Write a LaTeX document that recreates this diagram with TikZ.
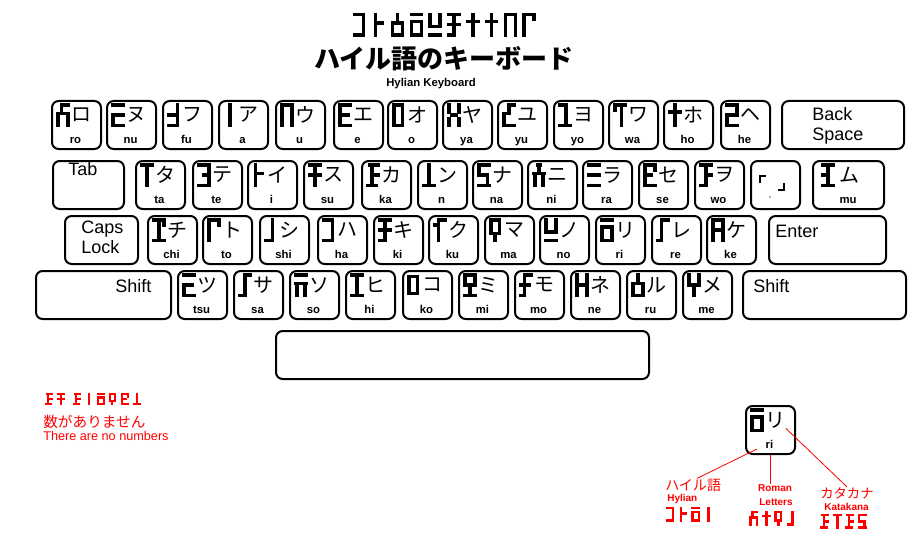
\documentclass[tikz,border=0pt]{standalone}
\usepackage{fontspec}
\setmainfont{Liberation Sans}
\newfontfamily\jp{Noto Sans CJK JP}
\newcommand{\px}{*0.75pt}
\newcommand{\defglyph}[2]{\expandafter\def\csname hy-#1\endcsname{#2}}
\newcommand{\hy}[1]{\csname hy-#1\endcsname}
% Hylian letters on a 3x6 grid, y pointing down
\defglyph{ro}{(1,0)--(3,0) (1,0)--(1,2.5) (0,2.5)--(3,2.5) (0,2.5)--(0,6) (3,2.5)--(3,6)}
\defglyph{nu}{(0,0)--(3,0) (0,3)--(3,3) (0,3)--(0,6)--(3,6)}
\defglyph{fu}{(2.5,0)--(2.5,6) (0,3)--(2.5,3) (0,6)--(2.5,6)}
\defglyph{a}{(1.5,0)--(1.5,6)}
\defglyph{u}{(0,6)--(0,0)--(3,0)--(3,6)}
\defglyph{e}{(3,0)--(0,0)--(0,6)--(3,6) (0,3)--(2.5,3)}
\defglyph{o}{(0,0) rectangle (2.5,6)}
\defglyph{ya}{(0,0)--(0,2) (3,0)--(3,2) (0.8,3)--(2.2,3) (0,4)--(0,6) (3,4)--(3,6)}
\defglyph{yu}{(3,0)--(1.5,0)--(1.5,2.5)--(0,2.5)--(0,6)--(3,6)}
\defglyph{yo}{(0,0)--(1.8,0)--(1.8,6) (0,6)--(3,6)}
\defglyph{wa}{(0,1.5)--(0,0)--(3,0) (2,0)--(2,6)}
\defglyph{ho}{(1.5,0)--(1.5,6) (0,2)--(3,2)}
\defglyph{he}{(0,0)--(3,0)--(3,3)--(0,3)--(0,6)--(3,6)}
\defglyph{ta}{(0,0)--(3,0) (1.5,0)--(1.5,6)}
\defglyph{te}{(0,0)--(3,0)--(3,6)--(0,6) (1.5,3)--(3,3)}
\defglyph{i}{(0.5,0)--(0.5,6) (0.5,2.5)--(2.5,2.5)}
\defglyph{su}{(0,0)--(3,0) (1.5,0)--(1.5,6) (0,3)--(3,3)}
\defglyph{ka}{(0.5,0)--(3,0) (1.2,0)--(1.2,6) (1.2,3)--(3,3) (0,6)--(2.5,6)}
\defglyph{n}{(1.5,0)--(1.5,6) (0,6)--(3,6)}
\defglyph{na}{(3,0)--(0,0)--(0,3)--(2.5,3)--(2.5,6) (0,6)--(3,6)}
\defglyph{ni}{(1,0)--(2,0) (1.5,0)--(1.5,2.5) (0,2.5)--(3,2.5) (0.3,2.5)--(0.3,6) (2.7,2.5)--(2.7,6)}
\defglyph{ra}{(0,0)--(3,0) (0,3)--(3,3) (0,6)--(3,6)}
\defglyph{se}{(0,0)--(3,0) (0,0)--(0,6)--(3,6) (0,3)--(2,3) (3,0)--(3,1.5)}
\defglyph{wo}{(0,0)--(3,0) (1.5,0)--(1.5,6) (1.5,3)--(3,3) (0,6)--(1.5,6)}
\defglyph{mu}{(0,0)--(3,0) (1.5,0)--(1.5,6) (0,6)--(3,6) (0,3)--(1.5,3)}
\defglyph{chi}{(0,0)--(3,0)--(3,1.5) (1.5,0)--(1.5,6) (0,6)--(3,6)}
\defglyph{to}{(3,1.5)--(3,0)--(0,0)--(0,6)}
\defglyph{shi}{(2,0)--(2,6)--(0,6)}
\defglyph{ha}{(0,0)--(2.5,0)--(2.5,6)--(0,6)}
\defglyph{ki}{(0,0)--(3,0) (1.5,0)--(1.5,6) (0,3)--(3,3) (0,6)--(1.5,6)}
\defglyph{ku}{(3,0)--(1,0)--(1,6) (0,1.5)--(1,1.5)}
\defglyph{ma}{(0,0) rectangle (2.5,4) (1.25,4)--(1.25,6)}
\defglyph{no}{(0,0)--(0,3.5)--(3,3.5)--(3,0) (0,6)--(3,6)}
\defglyph{ri}{(0,0)--(3,0) (0,2) rectangle (3,6)}
\defglyph{re}{(3,0)--(1,0)--(1,6)--(0,6)}
\defglyph{ke}{(0,6)--(0,0)--(3,0)--(3,6) (0,3)--(3,3)}
\defglyph{tsu}{(3,0)--(0,0) (0,3)--(2.5,3) (0,3)--(0,6)--(3,6)}
\defglyph{sa}{(3,0)--(1.5,0)--(1.5,6)--(0,6)}
\defglyph{so}{(0,0)--(3,0) (0,2.5)--(3,2.5) (0.3,2.5)--(0.3,6) (2.7,2.5)--(2.7,6)}
\defglyph{hi}{(0,0)--(3,0) (1.5,0)--(1.5,6) (0,6)--(3,6)}
\defglyph{ko}{(0,0.5) rectangle (2.5,5.5)}
\defglyph{mi}{(0,0) rectangle (3,3) (1.5,3)--(1.5,6) (0,6)--(3,6)}
\defglyph{mo}{(3,0)--(1,0)--(1,6)--(0,6) (0,3)--(2.5,3)}
\defglyph{ne}{(0,0)--(0,6) (3,0)--(3,6) (0,3)--(3,3)}
\defglyph{ru}{(1.5,0)--(1.5,2.5) (0,2.5) rectangle (3,6)}
\defglyph{me}{(0,0)--(0,3)--(3,3)--(3,0) (1.5,3)--(1.5,6)}
\tikzset{
  keycap/.style={draw,line width=1.5pt,rounded corners=5pt,minimum width=36.75pt,minimum height=36pt,inner sep=0pt,anchor=north west},
  glyph/.style={line width=2.6pt,line cap=rect,line join=miter,x=2.5pt,y=-2.55pt},
  tinyglyph/.style={glyph,line width=1.6pt,x=1.4pt,y=-1.3pt},
  smallglyph/.style={glyph,line width=2pt,x=1.6pt,y=-1.55pt},
  kana/.style={font=\jp\fontsize{15}{15}\selectfont,inner sep=0pt},
  roma/.style={font=\bfseries\fontsize{8.5}{9}\selectfont,inner sep=0pt,anchor=base},
  keytext/.style={font=\fontsize{13.5}{15}\selectfont,inner sep=0pt,anchor=north west,align=left},
  redtext/.style={red,inner sep=0pt,anchor=base west},
  lead/.style={red,line width=0.6pt},
}
% one letter key: left x, top y, romaji, kana
\newcommand{\hkey}[4]{%
  \node[keycap] (k-#3) at (#1,#2) {};
  \draw[shift={(#1+7,#2+5)},glyph] \hy{#3};
  \node[kana] at (#1+30.5,#2+15) {#4};
  \node[roma] at (#1+24.5,#2+43) {#3};
}

\begin{document}
\begin{tikzpicture}[x=0.75pt,y=-0.75pt]
  \useasboundingbox (0,0) rectangle (919,549);
  % title
  \foreach \g [count=\i] in {ha,i,ru,ri,no,ki,ho,ho,u,to}
    \draw[shift={(336.2+18.8*\i,14.5)},glyph] \hy{\g};
  \node[font=\jp\bfseries\fontsize{19.5}{20}\selectfont] (title) at (444,59) {ハイル語のキーボード};
  \node[font=\bfseries\fontsize{8.5}{9}\selectfont] (subtitle) at (431,84) {Hylian Keyboard};

  % row 1
  \foreach \kx/\rom/\kana in {51/ro/ロ,106/nu/ヌ,162/fu/フ,218/a/ア,275/u/ウ,333/e/エ,
      387/o/オ,442/ya/ヤ,497/yu/ユ,553/yo/ヨ,608/wa/ワ,663/ho/ホ,720/he/ヘ}
    {\hkey{\kx}{100}{\rom}{\kana}}
  \node[keycap,minimum width=122\px] (k-back) at (781,100) {};
  \node[keytext] at (812,107) {Back\\Space};

  % row 2
  \node[keycap,minimum width=71\px] (k-tab) at (52,160) {};
  \node[keytext] at (68,162) {Tab};
  \foreach \kx/\rom/\kana in {135/ta/タ,192/te/テ,247/i/イ,303/su/ス,361/ka/カ,417/n/ン,
      472/na/ナ,527/ni/ニ,582/ra/ラ,638/se/セ,694/wo/ヲ}
    {\hkey{\kx}{160}{\rom}{\kana}}
  \node[keycap] (k-kagi) at (750,160) {};
  \draw[line width=1.5pt] (760,183) -- (760,176) -- (766,176);
  \draw[line width=1.5pt] (784,183) -- (784,190) -- (778,190);
  \fill[gray!60] (769,196) rectangle (771,198);
  \node[keycap,minimum width=71\px] (k-mu) at (812,160) {};
  \draw[shift={(823,165)},glyph] \hy{mu};
  \node[kana] at (849,175) {ム};
  \node[roma] at (848,203) {mu};

  % row 3
  \node[keycap,minimum width=73\px] (k-caps) at (64,215) {};
  \node[keytext] at (81,221) {Caps\\Lock};
  \foreach \kx/\rom/\kana in {147/chi/チ,202/to/ト,259/shi/シ,317/ha/ハ,373/ki/キ,428/ku/ク,
      484/ma/マ,539/no/ノ,595/ri/リ,651/re/レ,706/ke/ケ}
    {\hkey{\kx}{215}{\rom}{\kana}}
  \node[keycap,minimum width=117\px] (k-enter) at (768,215) {};
  \node[keytext] at (775,225) {Enter};

  % row 4
  \node[keycap,minimum width=135\px] (k-lshift) at (35,270) {};
  \node[keytext] at (115,279) {Shift};
  \foreach \kx/\rom/\kana in {177/tsu/ツ,233/sa/サ,289/so/ソ,345/hi/ヒ,402/ko/コ,458/mi/ミ,
      514/mo/モ,570/ne/ネ,626/ru/ル,682/me/メ}
    {\hkey{\kx}{270}{\rom}{\kana}}
  \node[keycap,minimum width=163\px] (k-rshift) at (742,270) {};
  \node[keytext] at (753,279) {Shift};

  % space bar
  \node[keycap,minimum width=373\px] (k-space) at (275,330) {};

  % no numbers note
  \foreach \g [count=\i] in {ka,su,ka,a,ri,ma,se,n}
    \draw[red,shift={({34+12*\i+4*(\i>2)},394)},tinyglyph] \hy{\g};
  \node[redtext,font=\jp\fontsize{11}{12}\selectfont] (nonum-jp) at (43,427) {数がありません};
  \node[redtext,font=\fontsize{9.5}{10}\selectfont] (nonum-en) at (43,440) {There are no numbers};

  % legend key
  \node[keycap] (ex-key) at (745,405) {};
  \draw[shift={(752,410)},glyph] \hy{ri};
  \node[kana] (ex-kana) at (775.5,420) {リ};
  \node[roma] (ex-roma) at (769.5,448) {ri};
  \coordinate (ex-glyph) at (757,449);

  \node[redtext,font=\jp\fontsize{10.5}{11}\selectfont] (lbl-hy) at (665,490) {ハイル語};
  \node[redtext,font=\bfseries\fontsize{7.5}{8}\selectfont] (lbl-hy-en) at (667,501) {Hylian};
  \foreach \g [count=\i] in {ha,i,ri,a}
    \draw[red,shift={(655+12.5*\i,508)},smallglyph] \hy{\g};

  \node[red,font=\bfseries\fontsize{7.5}{8}\selectfont,inner sep=0pt,anchor=base] (lbl-rom) at (775,491) {Roman};
  \node[red,font=\bfseries\fontsize{7.5}{8}\selectfont,inner sep=0pt,anchor=base] (lbl-let) at (776,505) {Letters};
  \foreach \g [count=\i] in {ro,ho,ma,shi}
    \draw[red,shift={(738+12.5*\i,512)},smallglyph] \hy{\g};

  \node[redtext,font=\jp\fontsize{10}{11}\selectfont] (lbl-kk) at (820,498) {カタカナ};
  \node[redtext,font=\bfseries\fontsize{7.5}{8}\selectfont] (lbl-kk-en) at (824,510) {Katakana};
  \foreach \g [count=\i] in {ka,ta,ka,na}
    \draw[red,shift={(809+12.5*\i,515)},smallglyph] \hy{\g};

  \draw[lead] (ex-glyph) -- (lbl-hy.60);
  \draw[lead] (ex-key.south) -- (ex-key.south |- lbl-rom.north);
  \draw[lead] (ex-kana.south east) -- (lbl-kk.north);
\end{tikzpicture}
\end{document}
